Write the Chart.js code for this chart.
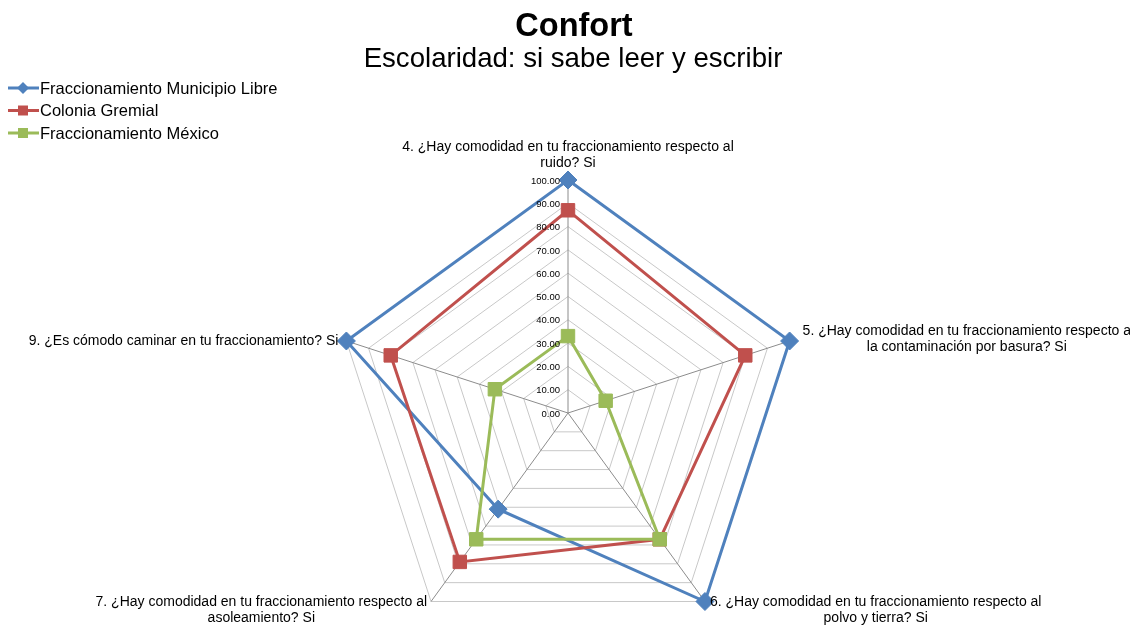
<!DOCTYPE html>
<html lang="es">
<head>
<meta charset="utf-8">
<title>Confort</title>
<script src="https://cdn.jsdelivr.net/npm/chart.js@4.4.1/dist/chart.umd.min.js"></script>
<style>
    html, body { margin: 0; padding: 0; background: #fff; overflow: hidden; }
    #wrap { position: relative; width: 1130px; height: 700px; }
</style>
</head>
<body>
<div id="wrap"><canvas id="radarChart" width="1130" height="700"></canvas></div>
<script>
// Chart data
const categories = [
    ['4. ¿Hay comodidad en tu fraccionamiento respecto al', 'ruido? Si'],
    ['5. ¿Hay comodidad en tu fraccionamiento respecto a', 'la contaminación por basura? Si'],
    ['6. ¿Hay comodidad en tu fraccionamiento respecto al', 'polvo y tierra? Si'],
    ['7. ¿Hay comodidad en tu fraccionamiento respecto al', 'asoleamiento? Si'],
    ['9. ¿Es cómodo caminar en tu fraccionamiento? Si']
];
const seriesNames = ['Fraccionamiento Municipio Libre', 'Colonia Gremial', 'Fraccionamiento México'];
const municipioLibre = [100, 100, 100, 51, 100];
const coloniaGremial = [87, 80, 67, 79, 80];
const fraccMexico = [33, 17, 67, 67, 33];
const tickLabels = ['0.00', '10.00', '20.00', '30.00', '40.00', '50.00', '60.00', '70.00', '80.00', '90.00', '100.00'];

const FONT = '"Liberation Sans", Arial, sans-serif';

// Title, legend, tick labels and point labels
const decorPlugin = {
    id: 'decor',
    afterDraw(chart) {
        const ctx = chart.ctx;
        const scale = chart.scales.r;
        ctx.save();
        ctx.fillStyle = '#000';
        ctx.textBaseline = 'alphabetic';
        ctx.textAlign = 'center';
        ctx.font = 'bold 32.5px ' + FONT;
        ctx.fillText('Confort', 574, 36);
        ctx.font = '27.6px ' + FONT;
        ctx.fillText('Escolaridad: si sabe leer y escribir', 573, 67);

        // legend
        ctx.textAlign = 'left';
        ctx.textBaseline = 'middle';
        ctx.font = '16.5px ' + FONT;
        chart.data.datasets.forEach((ds, i) => {
            const y = 88 + i * 22.5;
            ctx.strokeStyle = ds.borderColor;
            ctx.lineWidth = 3;
            ctx.beginPath();
            ctx.moveTo(8, y);
            ctx.lineTo(39, y);
            ctx.stroke();
            ctx.fillStyle = ds.borderColor;
            ctx.beginPath();
            if (ds.pointStyle === 'rectRot') {
                ctx.moveTo(23, y - 6); ctx.lineTo(29, y); ctx.lineTo(23, y + 6); ctx.lineTo(17, y);
            } else {
                ctx.rect(18, y - 5, 10, 10);
            }
            ctx.fill();
            ctx.fillStyle = '#000';
            ctx.fillText(ds.label, 40, y + 1);
        });

        // tick labels, right aligned next to the top axis
        ctx.font = '9.5px ' + FONT;
        ctx.textAlign = 'right';
        scale.ticks.forEach((t, i) => {
            const p = scale.getPointPositionForValue(0, t.value);
            ctx.fillText(tickLabels[i], p.x - 8, p.y + 1);
        });

        // point labels
        ctx.font = '14px ' + FONT;
        const lineH = 16;
        categories.forEach((lines, i) => {
            const tip = scale.getPointPositionForValue(i, 100);
            const w = Math.max(...lines.map(l => ctx.measureText(l).width));
            let left, top;
            if (i === 0) { left = tip.x - w / 2; top = tip.y - 9 - lines.length * lineH; }
            else if (i === 1) { left = tip.x + 13; top = tip.y - 2 - lines.length * lineH / 2; }
            else if (i === 2) { left = tip.x + 5; top = tip.y - 7; }
            else if (i === 3) { left = tip.x - 4 - w; top = tip.y - 7; }
            else { left = tip.x - 8 - w; top = tip.y - lineH / 2; }
            ctx.textAlign = 'center';
            lines.forEach((l, j) => {
                ctx.fillText(l, left + w / 2, top + lineH * j + lineH / 2);
            });
        });
        ctx.restore();
    }
};

function initializeChart() {
    const ctx = document.getElementById('radarChart');
    new Chart(ctx, {
        type: 'radar',
        data: {
            labels: categories,
            datasets: [{
                label: seriesNames[0],
                data: municipioLibre,
                borderColor: '#4F81BD',
                backgroundColor: '#4F81BD',
                pointStyle: 'rectRot',
                pointRadius: 9,
                order: 3
            }, {
                label: seriesNames[1],
                data: coloniaGremial,
                borderColor: '#C0504D',
                backgroundColor: '#C0504D',
                pointStyle: 'rect',
                pointRadius: 9.5,
                order: 2
            }, {
                label: seriesNames[2],
                data: fraccMexico,
                borderColor: '#9BBB59',
                backgroundColor: '#9BBB59',
                pointStyle: 'rect',
                pointRadius: 9.5,
                order: 1
            }]
        },
        options: {
            responsive: false,
            animation: false,
            devicePixelRatio: 1,
            layout: {
                padding: { left: 335, right: 329, top: 180, bottom: 54 }
            },
            elements: {
                line: { borderWidth: 3, tension: 0, fill: false },
                point: { borderWidth: 1, hoverRadius: 9 }
            },
            plugins: {
                legend: { display: false },
                title: { display: false },
                tooltip: { enabled: false }
            },
            scales: {
                r: {
                    min: 0,
                    max: 100,
                    ticks: { stepSize: 10, display: false },
                    pointLabels: { display: false },
                    grid: { color: '#C8C8C8', lineWidth: 1 },
                    angleLines: { color: '#8C8C8C', lineWidth: 1 }
                }
            }
        },
        plugins: [decorPlugin]
    });
}

document.addEventListener('DOMContentLoaded', function() {
    initializeChart();
});
</script>
</body>
</html>
